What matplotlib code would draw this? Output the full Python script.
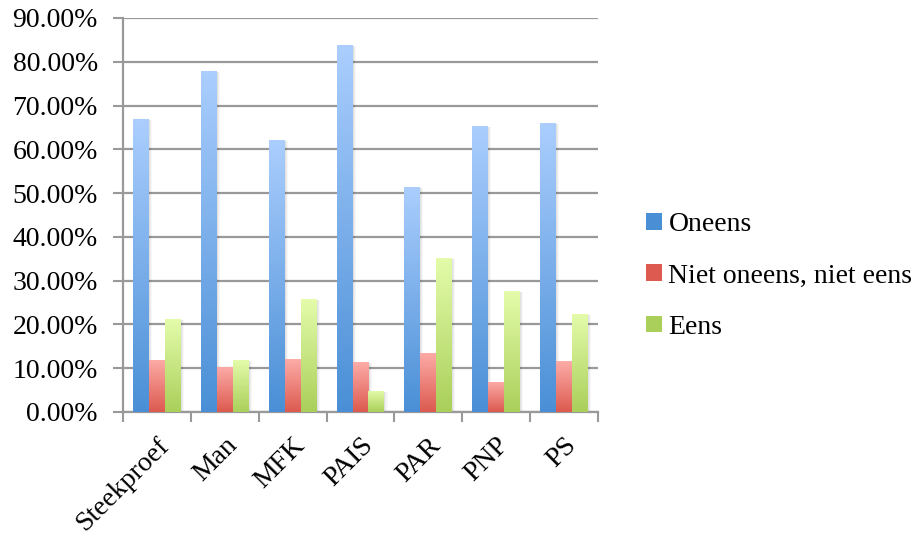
import numpy as np
import matplotlib
matplotlib.use("Agg")
import matplotlib.pyplot as plt
import matplotlib.patches as mpatches
from matplotlib.colors import LinearSegmentedColormap
from matplotlib.ticker import FuncFormatter

categories = ["Steekproef", "Man", "MFK", "PAIS", "PAR", "PNP", "PS"]
oneens = [66.9, 77.9, 62.1, 83.8, 51.4, 65.3, 66.0]
neutraal = [11.9, 10.3, 12.1, 11.4, 13.5, 6.9, 11.6]
eens = [21.2, 11.9, 25.8, 4.8, 35.2, 27.6, 22.4]
series_names = ["Oneens", "Niet oneens, niet eens", "Eens"]

# gradient colours (bottom, top) per series
grad = [("#4a8fd6", "#abcefe"), ("#dc5a4f", "#fdaca8"), ("#aacf5a", "#e4fcab")]

plt.rcParams['font.family'] = ['Liberation Serif', 'DejaVu Serif']

fig = plt.figure(figsize=(9.19, 5.37), dpi=100)
ax = fig.add_axes([0.1338, 0.2328, 0.517, 0.7337])

x = np.arange(len(categories))
w = 0.235
grad_img = np.linspace(0, 1, 256).reshape(-1, 1)

for i, vals in enumerate([oneens, neutraal, eens]):
    cmap = LinearSegmentedColormap.from_list("g%d" % i, grad[i])
    bars = ax.bar(x + (i - 1) * w, vals, w, color="none", edgecolor="none", zorder=3)
    for b in bars:
        x0, y0 = b.get_x(), b.get_y()
        bw, bh = b.get_width(), b.get_height()
        # soft drop shadow
        for k, a in [(0.045, 0.03), (0.03, 0.04), (0.015, 0.05)]:
            sh = mpatches.Rectangle((x0 + k, y0), bw, bh - 0.3, facecolor="#000000",
                                    alpha=a, edgecolor="none", zorder=2.5)
            ax.add_patch(sh)
        im = ax.imshow(grad_img, cmap=cmap, origin="lower", aspect="auto",
                       extent=[x0, x0 + bw, y0, y0 + bh], zorder=3)
        im.set_clip_path(b)

ax.set_xlim(-0.5, len(categories) - 0.5)
ax.set_ylim(0, 90)
ax.set_yticks(np.arange(0, 91, 10))
ax.yaxis.set_major_formatter(FuncFormatter(lambda v, p: "%.2f%%" % v))
ax.yaxis.grid(True, color="#999999", linewidth=1.6, zorder=1)
ax.set_axisbelow(True)

ax.set_xticks(x)
ax.set_xticklabels(categories, rotation=45, ha="right", rotation_mode="anchor")
ax.set_xticks(np.arange(-0.5, len(categories)), minor=True)
ax.tick_params(axis="x", which="major", length=0, pad=15, labelsize=20)
ax.tick_params(axis="x", which="minor", length=7, width=1.5, color="#999999")
ax.tick_params(axis="y", length=7, width=1.5, color="#999999", labelsize=20, pad=11)

for s in ["top", "right"]:
    ax.spines[s].set_visible(False)
for s in ["left", "bottom"]:
    ax.spines[s].set_color("#999999")
    ax.spines[s].set_linewidth(1.6)

handles = [mpatches.Patch(facecolor=g[0], edgecolor="none") for g in grad]
fig.legend(handles, series_names, loc="center left", bbox_to_anchor=(0.676, 0.486),
           frameon=False, fontsize=20, handlelength=0.55, handleheight=0.55,
           handletextpad=0.25, labelspacing=0.95)

fig.savefig("out.png", dpi=100)
